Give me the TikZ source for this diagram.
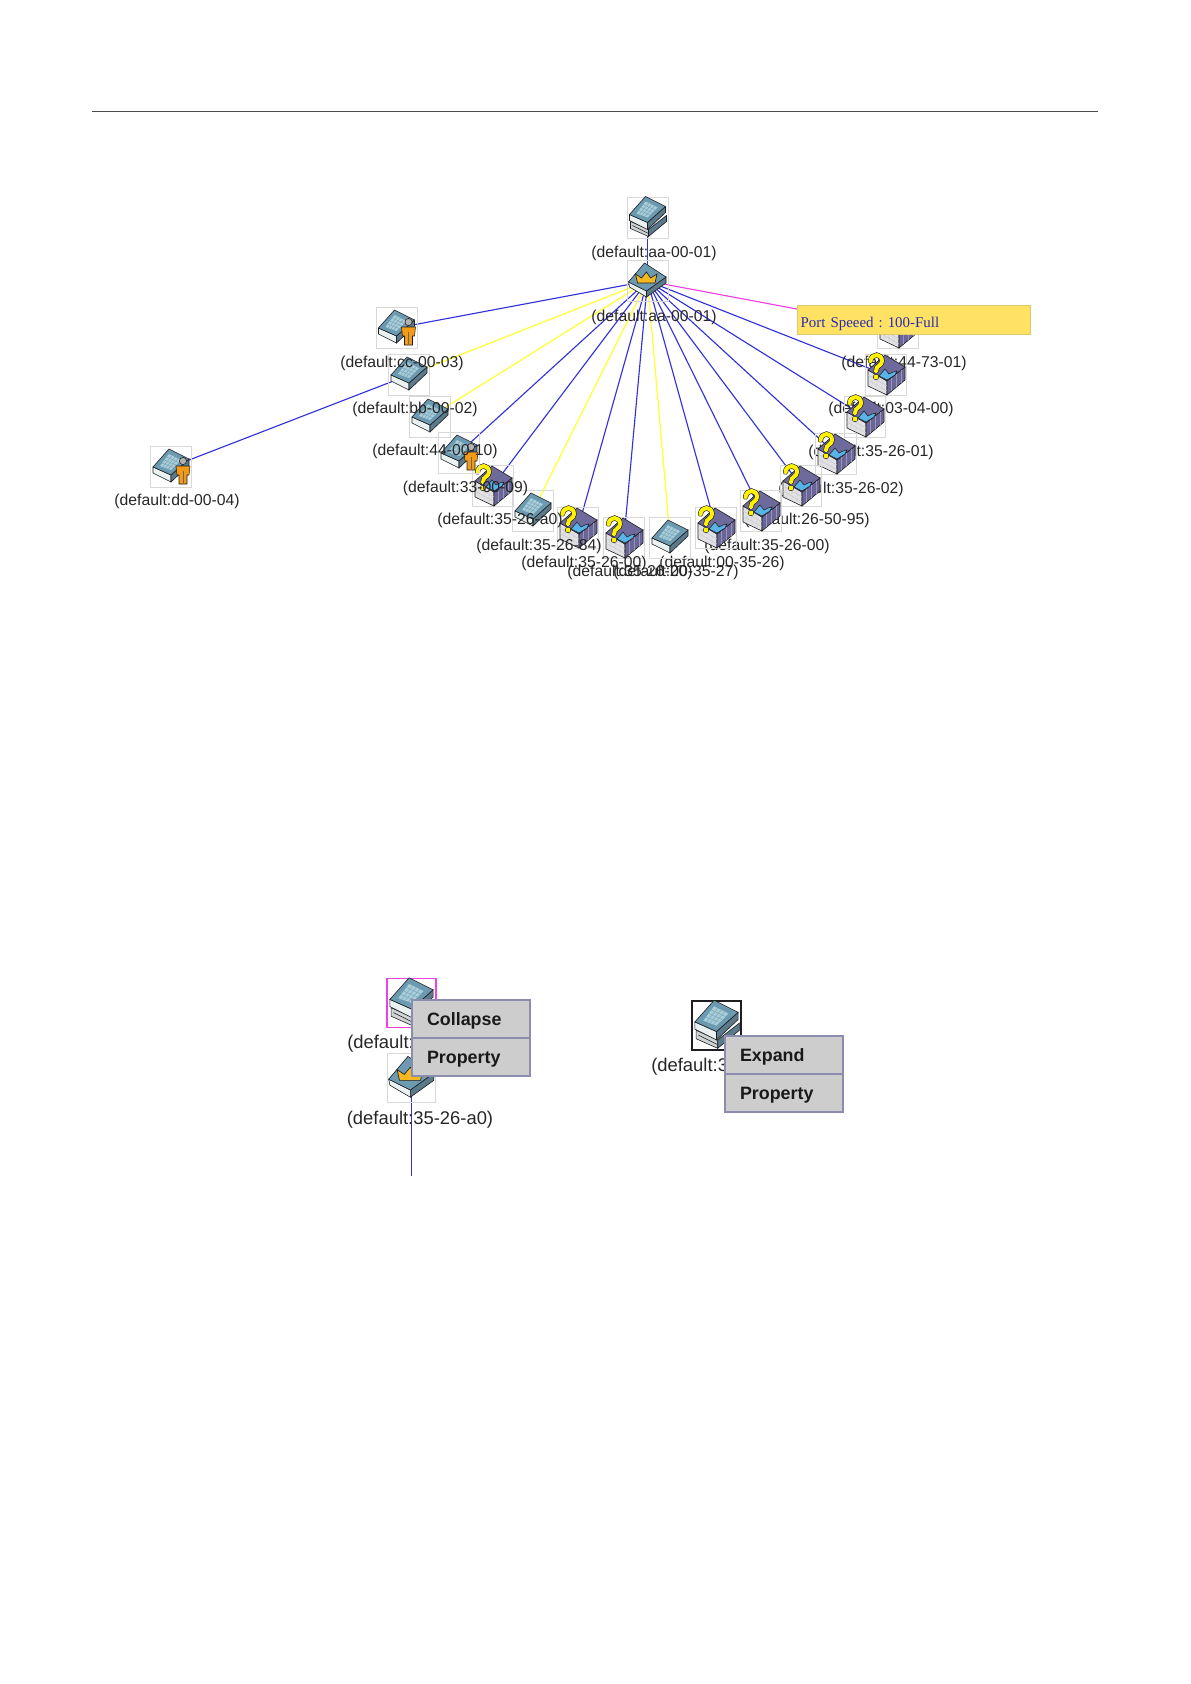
\documentclass[tikz,border=0pt]{standalone}
\usepackage{fontspec}
\setmainfont{Liberation Sans}
\newfontfamily\tipfont{Liberation Serif}
\usetikzlibrary{backgrounds}
\definecolor{swtop}{HTML}{6C9AB0}
\definecolor{swgrid}{HTML}{A9CEDA}
\definecolor{swgridline}{HTML}{7FAABD}
\definecolor{swfront}{HTML}{EAF1F1}
\definecolor{swright}{HTML}{5B7A8A}
\definecolor{outl}{HTML}{1E1E22}
\definecolor{linkblue}{HTML}{3232D8}
\definecolor{linkyellow}{HTML}{FFFF40}
\definecolor{linkpink}{HTML}{F040E0}
\definecolor{boxgray}{HTML}{D8D8D8}
\definecolor{menugray}{HTML}{CDCDCD}
\definecolor{menuedge}{HTML}{8C8CAE}
\definecolor{tipyellow}{HTML}{FFE264}
\definecolor{tipblue}{HTML}{2A2AB0}
\definecolor{cubeleft}{HTML}{E2E2E6}
\definecolor{cuberight}{HTML}{6A6698}
\definecolor{cubetop}{HTML}{6F6A9C}
\definecolor{cubeblue}{HTML}{58B4E8}
\definecolor{qyellow}{HTML}{FFF200}
\definecolor{personor}{HTML}{F59A14}
\definecolor{crownor}{HTML}{F4B820}
\newcommand{\swgridlines}{%
  \fill[swgrid] (-11,-1)--(-2,-13)--(10,-7)--(0,3)--cycle;
  \draw[swgridline,line width=.45pt] (-8.75,-4)--(2.5,.5) (-6.5,-7)--(5,-2) (-4.25,-10)--(7.5,-4.5)
     (-8.25,0)--(1,-11.5) (-5.5,1)--(4,-10) (-2.75,2)--(7,-8.5);}
\newcommand{\swbody}{%
  \filldraw[draw=outl,line width=.45pt,fill=swfront] (-18,0)--(0,8)--(0,15)--(-18,6)--cycle;
  \filldraw[draw=outl,line width=.45pt,fill=swright] (0,8)--(18,-8)--(18,-2)--(0,15)--cycle;
  \filldraw[draw=outl,line width=.45pt,fill=swtop] (-18,0)--(-2,-18)--(18,-8)--(0,8)--cycle;}
\newcommand{\menutext}[1]{\rule{0pt}{12.6pt}#1}
\tikzset{
  x=.75pt,y=-.75pt,
  iconbox/.style={draw=boxgray,line width=.7pt,minimum size=30.75pt,inner sep=0pt,fill=none},
  devlabel/.style={font=\fontsize{11.8}{14}\selectfont,text=black!85,inner sep=0pt},
  biglabel/.style={font=\fontsize{13.8}{16}\selectfont,text=black!85,inner sep=0pt},
  link/.style={line width=.85pt},
  menuitem/.style={draw=menuedge,fill=menugray,line width=1.1pt,minimum width=88.5pt,minimum height=28.5pt,
     text width=66pt,inner xsep=11.25pt,inner ysep=0pt,align=left,font=\fontsize{13.4}{15}\selectfont\bfseries,text=black!90},
  pics/swplain/.style={code={\swbody\swgridlines}},
  pics/swstack/.style={code={
    \filldraw[draw=outl,line width=.45pt,fill=swfront!75!gray] (-17,4)--(1,12)--(1,19)--(-17,11)--cycle;
    \filldraw[draw=outl,line width=.45pt,fill=swright] (1,12)--(19,-2)--(19,4)--(1,19)--cycle;
    \draw[outl,line width=.45pt] (-15,8)--(1,16);
    \begin{scope}[yshift=2.25pt]\swbody\swgridlines\end{scope}}},
  pics/swcrown/.style={code={
    \filldraw[draw=outl,line width=.45pt,fill=swfront] (-19,1)--(-1,10)--(-1,16)--(-18,6)--cycle;
    \filldraw[draw=outl,line width=.45pt,fill=swright] (-1,10)--(18.5,-4)--(18.5,2)--(-1,16)--cycle;
    \filldraw[draw=outl,line width=.45pt,fill=swtop] (-19,1)--(-3,-18)--(18.5,-4)--(-1,10)--cycle;
    \filldraw[draw=outl,line width=.5pt,fill=crownor] (-10,2)--(-12,-7)--(-6,-3)--(-1,-9)--(3,-3)--(9.5,-7)--(7.5,2)--cycle;}},
  pics/swperson/.style={code={\swbody\swgridlines
    \filldraw[draw=outl,line width=.4pt,fill=gray!60] (12,-6) circle[radius=3.6];
    \filldraw[draw=outl,line width=.4pt,fill=personor] (5,-1)--(19,-1)--(18,8)--(16,8)--(16,17)--(8,17)--(8,8)--(6,8)--cycle;
    \draw[black!60,line width=.4pt] (12,4)--(12,16);}},
  pics/swquery/.style={code={
    \filldraw[draw=outl,line width=.45pt,fill=cubeleft] (-18,-5)--(1,6)--(1,20)--(-18,11)--cycle;
    \filldraw[draw=outl,line width=.45pt,fill=cuberight] (1,6)--(19,-8)--(19,5)--(1,20)--cycle;
    \filldraw[draw=outl,line width=.45pt,fill=cubetop] (-18,-5)--(-1,-20)--(19,-8)--(1,6)--cycle;
    \draw[gray!45,line width=.3pt] (-14,-3)--(-14,13) (-9,0)--(-9,15) (-4,3)--(-4,17) (-18,0)--(1,11) (-18,5)--(1,16);
    \draw[cuberight!70!white,line width=.3pt] (5,3)--(5,16) (10,-1)--(10,12) (15,-5)--(15,8);
    \filldraw[draw=outl,line width=.4pt,fill=cubeblue] (-7,1)--(-1,-6)--(3,-1)--(7,-3)--(11,-4)--(9,0)--(1,5)--cycle;
    \draw[outl,line width=3.9pt,line cap=round] (-15.5,-14) .. controls (-14.5,-22) and (-4,-22) .. (-4,-14) .. controls (-4,-9) and (-10,-10) .. (-10,-4);
    \fill[outl] (-10,2) circle[radius=3.1];
    \draw[qyellow,line width=3pt,line cap=round] (-15.5,-14) .. controls (-14.5,-22) and (-4,-22) .. (-4,-14) .. controls (-4,-9) and (-10,-10) .. (-10,-4);
    \fill[qyellow] (-10,2) circle[radius=2.4];}},
}
\newcommand{\devnode}[7]{%
  \node[iconbox] (#1) at (#2,#3) {};
  \pic at (#1.center) {#4};
  \node[devlabel] (#1-label) at (#5,#6) {(default:#7)};}
\begin{document}
\begin{tikzpicture}
\useasboundingbox (0,0) rectangle (1190,1684);
\coordinate (ruleL) at (92,111);
\coordinate (ruleR) at (1098,111);
\draw[black!70,line width=.6pt] (ruleL)--(ruleR);
% right arc, top to bottom
\devnode{n4473}{898}{328}{swquery}{904}{363}{44-73-01}
\devnode{n0304}{886}{375}{swquery}{891}{409}{03-04-00}
\devnode{n2601}{865}{417}{swquery}{871}{452}{35-26-01}
\devnode{n2602}{836}{454}{swquery}{841}{489}{35-26-02}
\devnode{n5095}{801}{486}{swquery}{807}{520}{26-50-95}
\devnode{n2600b}{761}{511}{swquery}{767}{546}{35-26-00}
\devnode{n3526}{716}{528}{swquery}{722}{563}{00-35-26}
\devnode{n3527}{670}{538}{swplain}{676}{572}{00-35-27}
\devnode{n2620}{624}{538}{swquery}{630}{572}{35-26-20}
\devnode{n2600a}{578}{528}{swquery}{584}{563}{35-26-00}
% left arc, bottom to top
\devnode{n2684}{533}{511}{swplain}{539}{546}{35-26-84}
\devnode{n26a0}{493}{486}{swquery}{500}{520}{35-26-a0}
\devnode{n3300}{459}{453}{swperson}{465.5}{488}{33-00-09}
\devnode{n4400}{430}{417}{swplain}{435}{451}{44-00-10}
\devnode{nbb}{409}{375}{swplain}{415}{409}{bb-00-02}
\devnode{ncc}{396.5}{328}{swperson}{402}{363}{cc-00-03}
\devnode{ndd}{171}{467}{swperson}{177}{501}{dd-00-04}
\devnode{naa}{647.5}{217.5}{swstack}{654}{253}{aa-00-01}
\devnode{nroot}{647.5}{281}{swcrown}{654}{317}{aa-00-01}
\begin{scope}[on background layer]
  \foreach \t in {naa,ncc,n3300,n26a0,n2600a,n2620,n3526,n2600b,n5095,n2602,n2601,n0304}
    \draw[link,linkblue] (nroot.center)--(\t.center);
  \foreach \t in {nbb,n4400,n2684,n3527}
    \draw[link,linkyellow,line width=1pt] (nroot.center)--(\t.center);
  \draw[link,linkpink] (nroot.center)--(n4473.center);
  \draw[link,linkblue] (nbb.center)--(ndd.center);
\end{scope}
\node[draw=tipyellow!75!gray,fill=tipyellow,line width=.7pt,minimum width=175pt,minimum height=22pt,inner xsep=2.2pt,inner ysep=0pt,
  text width=170pt,align=left,font=\tipfont\fontsize{11.2}{14}\selectfont,text=tipblue] (tip) at (914,320) {\frenchspacing\rule{0pt}{14pt}Port Speeed : 100-Full};
% lower left panel
\node[draw=linkpink,line width=.9pt,minimum size=36.75pt,inner sep=0pt] (colA) at (411.5,1003) {};
\pic[scale=1.2] at (colA.center) {swstack};
\node[biglabel,anchor=west] (colAl) at (347,1044) {(default:};
\node[iconbox,minimum size=36.5pt] (colB) at (411.5,1078) {};
\pic[scale=1.2] at (colB.center) {swcrown};
\node[biglabel] (colBl) at (420,1120) {(default:35-26-a0)};
\coordinate (colEnd) at (411.5,1176);
\begin{scope}[on background layer]
  \draw[linkblue,line width=1.1pt] (colB.center)--(colEnd);
\end{scope}
\node[menuitem] (colM1) at (471,1019) {\menutext{Collapse}};
\node[menuitem] (colM2) at (471,1057) {\menutext{Property}};
% lower right panel
\node[draw=outl,line width=.9pt,minimum size=36.75pt,inner sep=0pt] (expA) at (716.5,1025.5) {};
\pic[scale=1.2] at (expA.center) {swstack};
\node[biglabel,anchor=west] (expAl) at (651,1067) {(default:3};
\node[menuitem] (expM1) at (784,1055) {\menutext{Expand}};
\node[menuitem] (expM2) at (784,1093) {\menutext{Property}};
\end{tikzpicture}
\end{document}
